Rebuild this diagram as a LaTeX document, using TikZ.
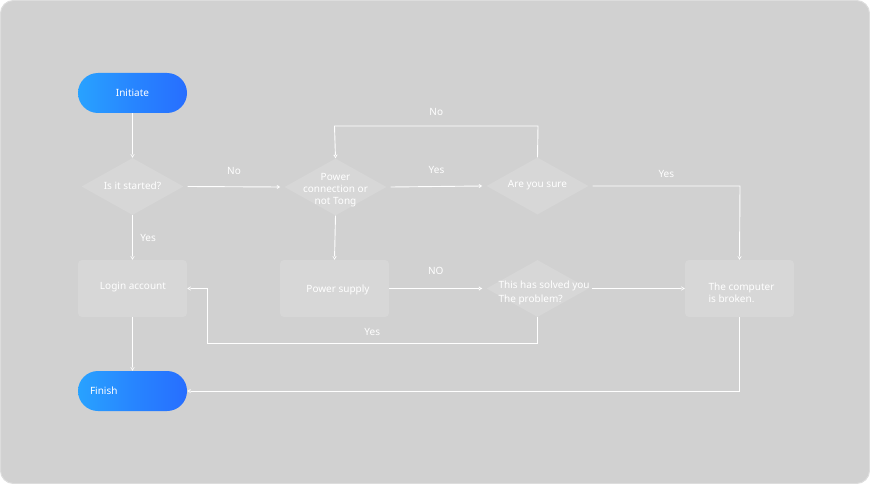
\documentclass[tikz,border=0pt]{standalone}
\usepackage{fontspec}
\setmainfont{Noto Sans}
\usetikzlibrary{shapes.geometric,arrows.meta}
\definecolor{bgc}{HTML}{D1D1D1}
\definecolor{bgedge}{HTML}{DDDDDD}
\definecolor{boxc}{HTML}{D7D7D7}
\definecolor{gleft}{HTML}{28A2FF}
\definecolor{gright}{HTML}{276EFF}
\tikzset{
  txt/.style={text=white,font=\fontsize{10}{12}\selectfont},
  terminal/.style={rounded corners=20pt,minimum width=109pt,minimum height=40pt,inner sep=0pt,
    left color=gleft,right color=gright,middle color=gright!55!gleft,draw=none,txt},
  dia/.style={diamond,fill=boxc,draw=none,minimum width=102pt,minimum height=57pt,inner sep=0pt,aspect=1.78},
  procbox/.style={rectangle,rounded corners=4pt,fill=boxc,minimum width=109pt,minimum height=57pt,inner sep=0pt,txt},
  conn/.style={draw=white,line width=0.9pt,-{Triangle[length=3.5pt,width=4pt,fill=black!70]}},
  lab/.style={txt}
}
\begin{document}
\begin{tikzpicture}[x=1pt,y=-1pt]
\useasboundingbox (0,0) rectangle (870,484);
\fill[white] (0,0) rectangle (870,484);
\draw[bgedge,fill=bgc,line width=1pt,rounded corners=13pt] (0.5,0.5) rectangle (869.5,483.5);

% nodes
\node[terminal] (init) at (132.5,93) {Initiate};
\node[dia] (start) at (132.5,186.5) {};
\node[txt] at (132.5,186) {Is it started?};
\node[dia] (power) at (335.5,187) {};
\node[txt,align=center] at (335.5,190) {Power\\connection or\\not Tong};
\node[dia] (sure) at (537.5,186) {};
\node[txt] at (537.5,185) {Are you sure};
\node[procbox] (login) at (132.5,288.5) {};
\node[txt] at (133,287) {Login account};
\node[procbox] (supply) at (334.5,288.5) {};
\node[txt] at (338,290) {Power supply};
\node[dia] (solved) at (537.5,288.5) {};
\node[txt,align=left,anchor=west,font=\fontsize{10}{13.5}\selectfont] at (495,293) {This has solved you\\The problem?};
\node[procbox] (broken) at (739.5,288.5) {};
\node[txt,align=left,anchor=west] at (705,292.5) {The computer\\is broken.};
\node[terminal,text width=85pt,align=left] (finish) at (132.5,391) {Finish};

% connectors
\draw[conn] (init.south) -- (start.north);
\draw[conn] ([xshift=4pt]start.east) -- node[lab,above=8pt] {No} ([xshift=-4pt]power.west);
\draw[conn] (start.south) -- node[lab,right=4pt] {Yes} (login.north);
\draw[conn] ([xshift=4pt]power.east) -- node[lab,above=9pt] {Yes} ([xshift=-4pt]sure.west);
\coordinate (n1) at (538,126);
\coordinate (n2) at (334.5,126);
\draw[conn] (sure.north) -- (n1) -- node[lab,above=7pt] {No} (n2) -- (power.north);
\coordinate (y1) at (740,186);
\draw[conn] ([xshift=4pt]sure.east) -- node[lab,above=5pt] {Yes} (y1) -- (broken.north);
\draw[conn] (power.south) -- (supply.north);
\draw[conn] (supply.east) -- node[lab,above=10pt] {NO} ([xshift=-4pt]solved.west);
\draw[conn] ([xshift=3pt]solved.east) -- (broken.west);
\coordinate (s1) at (537.5,343);
\coordinate (s2) at (207,343);
\coordinate (s3) at (207,288.5);
\draw[conn] (solved.south) -- (s1) -- node[lab,above=4pt] {Yes} (s2) -- (s3) -- (login.east);
\coordinate (b1) at (broken.south |- finish.east);
\draw[conn] (broken.south) -- (b1) -- (finish.east);
\draw[conn] (login.south) -- (finish.north);
\end{tikzpicture}
\end{document}
